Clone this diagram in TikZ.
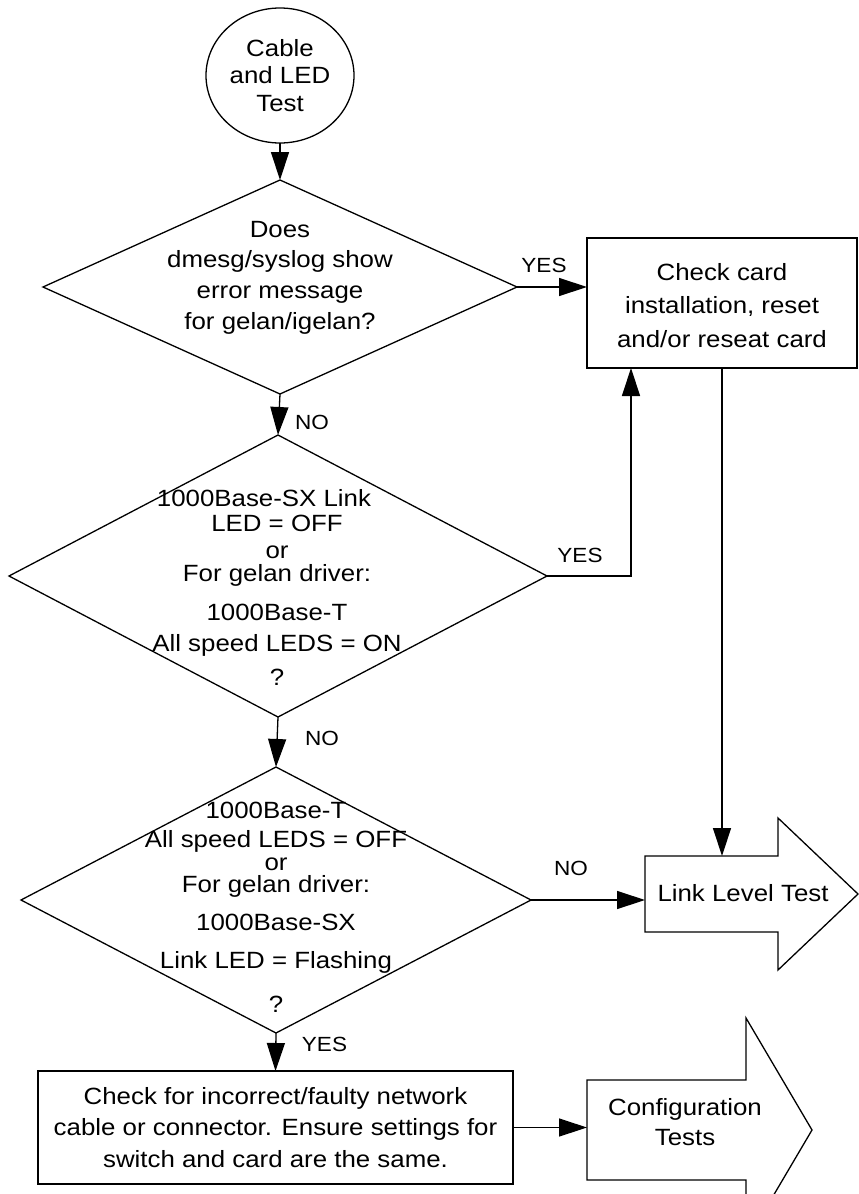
\documentclass[tikz,border=0pt]{standalone}
\usepackage{fontspec}
\setmainfont{Liberation Sans}[FakeStretch=1.1]
\usetikzlibrary{shapes.geometric,arrows.meta}
\begin{document}
\begin{tikzpicture}[x=1pt,y=-1pt,
  line width=1.3pt,
  every node/.style={inner sep=0pt,outer sep=0pt},
  body/.style={align=center,font=\fontsize{23.5}{28}\selectfont},
  decision/.style={diamond,draw},
  procbox/.style={draw,rectangle},
  blockarrow/.style={draw,line join=miter},
  arr/.style={-{Triangle[length=28pt,width=18pt]}},
  lbl/.style={font=\fontsize{20.5}{24}\selectfont}]
\useasboundingbox (0,0) rectangle (859,1194);

% start terminal
\node[ellipse,draw,minimum width=148pt,minimum height=135pt,align=center,
      font=\fontsize{23.5}{27.5}\selectfont] (start) at (280,75.5) {Cable\\and LED\\Test};

% first decision
\node[decision,minimum width=474pt,minimum height=214pt] (d1) at (280,287) {};
\node[align=center,font=\fontsize{23.5}{30.67}\selectfont] (d1t) at (280,277.5)
  {Does\\dmesg/syslog show\\error message\\for gelan/igelan?};

% card check box
\node[procbox,minimum width=270pt,minimum height=130pt] (chk) at (722,303) {};
\node[align=center,font=\fontsize{23.5}{33.5}\selectfont] (chkt) at (722,305.5)
  {Check card\\installation, reset\\and/or reseat card};

% second decision
\node[decision,minimum width=538pt,minimum height=282pt] (d2) at (278,576) {};
\node[align=center,font=\fontsize{23.5}{23}\selectfont] (d2t) at (277,587.5)
  {\hspace*{-26pt}1000Base-SX Link\\[2pt]LED = OFF\\[4pt]or\\For gelan driver:\\[16pt]1000Base-T\\[8pt]All speed LEDS = ON\\[11pt]?};

% third decision
\node[decision,minimum width=510pt,minimum height=266pt] (d3) at (276,900) {};
\node[align=center,font=\fontsize{23.5}{21}\selectfont] (d3t) at (276,907.5)
  {1000Base-T\\[8pt]All speed LEDS = OFF\\[2pt]or\\[1pt]For gelan driver:\\[15pt]1000Base-SX\\[17pt]Link LED = Flashing\\[22pt]?};

% cable / settings box
\node[procbox,body,minimum width=475pt,minimum height=113pt,
      font=\fontsize{23.5}{31.5}\selectfont] (fix) at (275.5,1127.5)
  {Check for incorrect/faulty network\\cable or connector. Ensure settings for\\switch and card are the same.};

% block arrow: link level test
\draw[blockarrow] (645,856) -- (778,856) -- (778,818) -- (858,894) -- (778,970)
  -- (778,932) -- (645,932) -- cycle;
\node[body] (llt) at (743,893) {Link Level Test};
\coordinate (lltN) at (722,856);
\coordinate (lltW) at (645,900);

% block arrow: configuration tests
\draw[blockarrow] (587,1080) -- (746,1080) -- (746,1018) -- (812,1130) -- (746,1242)
  -- (746,1180) -- (587,1180) -- cycle;
\node[align=center,font=\fontsize{23.5}{30}\selectfont] (cfg) at (685,1122) {Configuration\\Tests};
\coordinate (cfgW) at (587,1127.5);

% connectors
\coordinate (chkin) at (631,368);
\draw[arr] (start.south) -- (d1.north);
\draw[arr] (d1.east) -- (d1.east -| chk.west);
\draw[arr] (d1.south) -- (d2.north);
\draw[arr] (d2.east) -| (chkin);
\draw[arr] (d2.south) -- (d3.north);
\draw[arr] (chk.south) -- (lltN);
\draw[arr] (d3.east) -- (lltW);
\draw[arr] (d3.south) -- (fix.north);
\draw[arr] (fix.east) -- (cfgW);

% branch labels
\node[lbl] (y1) at (544,265.5) {YES};
\node[lbl] (n1) at (312,422.5) {NO};
\node[lbl] (y2) at (580,555) {YES};
\node[lbl] (n2) at (322,738) {NO};
\node[lbl] (n3) at (571,868.5) {NO};
\node[lbl] (y3) at (324.5,1044.5) {YES};
\end{tikzpicture}
\end{document}
